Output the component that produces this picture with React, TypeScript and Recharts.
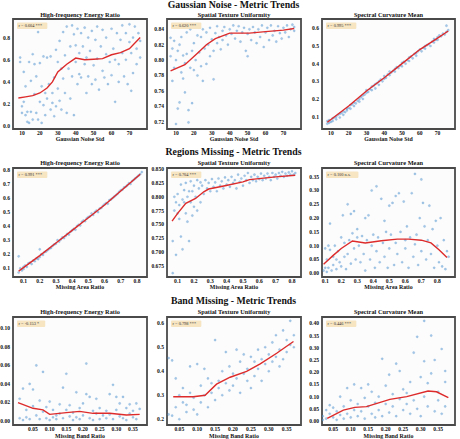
import { ScatterChart, Scatter, XAxis, YAxis, CartesianGrid, ReferenceArea } from "recharts";

type Pt = [number, number];

// ---------- Gaussian Noise row ----------
const gaussStdTicks = [10, 20, 30, 40, 50, 60, 70];

const gaussHfPoints: Pt[] = [
  [9, 0.62], [9, 0.58], [10, 0.18], [10, 0.12], [11, 0.22], [11, 0.49], [12, 0.1], [12, 0.36], [13, 0.04], [13, 0.13],
  [14, 0.03], [14, 0.58], [15, 0.13], [15, 0.41], [16, 0.06], [16, 0.65], [17, 0.29], [17, 0.56], [18, 0.12], [18, 0.45],
  [19, 0.85], [19, 0.06], [20, 0.22], [20, 0.57], [21, 0.03], [21, 0.36], [22, 0.19], [22, 0.63], [23, 0.3], [23, 0.1],
  [24, 0.62], [24, 0.25], [25, 0.38], [26, 0.15], [26, 0.63], [27, 0.21], [27, 0.3], [28, 0.44], [28, 0.09], [29, 0.18],
  [29, 0.69], [30, 0.58], [30, 0.34], [31, 0.77], [31, 0.23], [32, 0.15], [32, 0.52], [33, 0.85], [33, 0.43], [34, 0.64],
  [34, 0.3], [35, 0.9], [35, 0.12], [36, 0.52], [37, 0.72], [37, 0.25], [38, 0.91], [38, 0.45], [39, 0.83], [39, 0.1],
  [40, 0.73], [40, 0.58], [41, 0.38], [41, 0.88], [42, 0.47], [42, 0.66], [43, 0.84], [43, 0.44], [44, 0.72], [45, 0.56],
  [45, 0.89], [46, 0.3], [46, 0.62], [47, 0.8], [47, 0.45], [48, 0.68], [49, 0.38], [49, 0.86], [50, 0.55], [51, 0.78],
  [51, 0.42], [52, 0.9], [52, 0.61], [53, 0.33], [54, 0.72], [55, 0.5], [55, 0.87], [56, 0.44], [57, 0.65], [57, 0.8],
  [58, 0.38], [59, 0.58], [60, 0.88], [60, 0.46], [61, 0.7], [62, 0.22], [62, 0.6], [63, 0.84], [64, 0.4], [64, 0.56],
  [65, 0.78], [66, 0.66], [66, 0.91], [67, 0.45], [68, 0.6], [68, 0.84], [69, 0.38], [70, 0.76], [70, 0.92], [71, 0.32],
  [71, 0.66], [72, 0.8], [72, 0.48], [73, 0.9], [74, 0.7], [74, 0.56], [75, 0.84], [76, 0.77], [76, 0.62],
];
const gaussHfTrend: Pt[] = [
  [8, 0.255], [12, 0.265], [16, 0.276], [20, 0.3], [24, 0.345], [27, 0.4], [30, 0.49], [35, 0.56],
  [40, 0.615], [45, 0.6], [50, 0.605], [55, 0.61], [60, 0.645], [65, 0.665], [70, 0.7], [76, 0.8],
];

const gaussStuPoints: Pt[] = [
  [7, 0.829], [7, 0.805], [8, 0.815], [8, 0.773], [9, 0.825], [9, 0.79], [10, 0.717], [10, 0.8], [11, 0.812], [11, 0.737],
  [12, 0.82], [12, 0.745], [13, 0.784], [13, 0.83], [14, 0.776], [14, 0.806], [15, 0.758], [15, 0.796], [16, 0.808], [16, 0.836],
  [17, 0.735], [17, 0.719], [18, 0.79], [18, 0.84], [19, 0.744], [19, 0.812], [20, 0.822], [20, 0.787], [21, 0.8], [22, 0.78],
  [22, 0.832], [23, 0.81], [24, 0.792], [24, 0.83], [25, 0.773], [25, 0.84], [26, 0.815], [27, 0.795], [27, 0.836], [28, 0.82],
  [29, 0.805], [29, 0.842], [30, 0.827], [31, 0.812], [31, 0.775], [32, 0.835], [33, 0.822], [33, 0.844], [34, 0.83], [35, 0.814],
  [36, 0.838], [36, 0.826], [37, 0.843], [38, 0.832], [39, 0.82], [40, 0.84], [41, 0.834], [42, 0.845], [43, 0.828], [44, 0.838],
  [45, 0.844], [46, 0.824], [47, 0.836], [48, 0.842], [49, 0.812], [50, 0.805], [50, 0.834], [51, 0.84], [52, 0.826], [53, 0.843],
  [54, 0.836], [55, 0.822], [56, 0.84], [57, 0.83], [58, 0.845], [59, 0.817], [60, 0.836], [61, 0.842], [62, 0.826], [63, 0.845],
  [64, 0.832], [65, 0.838], [66, 0.824], [67, 0.844], [68, 0.835], [69, 0.828], [70, 0.842], [71, 0.836], [72, 0.845], [73, 0.83],
  [74, 0.84], [75, 0.846], [76, 0.838], [76, 0.843],
];
const gaussStuTrend: Pt[] = [
  [7, 0.786], [15, 0.794], [22, 0.809], [27, 0.82], [32, 0.828], [40, 0.835], [51, 0.835], [60, 0.837], [70, 0.839], [76, 0.841],
];

const gaussScmPoints: Pt[] = [
  [8, 0.06], [8, 0.075], [9, 0.08], [9, 0.065], [10, 0.07], [11, 0.09], [11, 0.075], [12, 0.095], [13, 0.085], [13, 0.1],
  [14, 0.11], [15, 0.095], [15, 0.115], [16, 0.12], [17, 0.11], [17, 0.13], [18, 0.125], [19, 0.135], [19, 0.145], [20, 0.15],
  [21, 0.145], [21, 0.165], [22, 0.17], [23, 0.16], [23, 0.18], [24, 0.175], [25, 0.19], [26, 0.185], [26, 0.2], [27, 0.21],
  [28, 0.2], [28, 0.22], [29, 0.225], [30, 0.235], [30, 0.25], [31, 0.24], [32, 0.255], [33, 0.25], [33, 0.27], [34, 0.275],
  [35, 0.26], [35, 0.285], [36, 0.29], [37, 0.28], [37, 0.3], [38, 0.31], [39, 0.3], [40, 0.315], [40, 0.33], [41, 0.32],
  [42, 0.34], [43, 0.335], [43, 0.355], [44, 0.35], [45, 0.36], [46, 0.37], [46, 0.355], [47, 0.38], [48, 0.375], [49, 0.39],
  [50, 0.385], [50, 0.405], [51, 0.41], [52, 0.4], [53, 0.42], [54, 0.435], [54, 0.415], [55, 0.44], [56, 0.43], [57, 0.455],
  [58, 0.46], [58, 0.445], [59, 0.47], [60, 0.48], [61, 0.47], [62, 0.49], [63, 0.5], [63, 0.485], [64, 0.505], [65, 0.51],
  [66, 0.5], [67, 0.525], [68, 0.52], [68, 0.54], [69, 0.535], [70, 0.55], [70, 0.535], [71, 0.56], [72, 0.555], [73, 0.57],
  [74, 0.565], [75, 0.58], [75, 0.615], [76, 0.59],
];
const gaussScmTrend: Pt[] = [
  [8, 0.068], [20, 0.16], [30, 0.245], [40, 0.32], [50, 0.4], [60, 0.48], [70, 0.545], [76, 0.585],
];

// ---------- Regions Missing row ----------
const areaTicks = [0.1, 0.2, 0.3, 0.4, 0.5, 0.6, 0.7, 0.8];

const areaHfPoints: Pt[] = [
  [0.07, 0.185], [0.07, 0.07], [0.08, 0.1], [0.09, 0.085], [0.1, 0.11], [0.1, 0.095], [0.11, 0.12], [0.12, 0.11], [0.13, 0.135], [0.14, 0.14],
  [0.15, 0.13], [0.16, 0.155], [0.17, 0.15], [0.18, 0.17], [0.19, 0.165], [0.2, 0.18], [0.2, 0.235], [0.21, 0.2], [0.22, 0.195], [0.23, 0.215],
  [0.24, 0.22], [0.25, 0.23], [0.26, 0.24], [0.27, 0.245], [0.28, 0.26], [0.29, 0.27], [0.3, 0.275], [0.31, 0.3], [0.32, 0.29], [0.33, 0.305],
  [0.34, 0.32], [0.35, 0.315], [0.36, 0.33], [0.37, 0.345], [0.38, 0.34], [0.39, 0.36], [0.4, 0.37], [0.41, 0.38], [0.42, 0.375], [0.43, 0.4],
  [0.44, 0.41], [0.45, 0.405], [0.46, 0.43], [0.47, 0.44], [0.48, 0.435], [0.49, 0.455], [0.5, 0.465], [0.51, 0.47], [0.52, 0.49], [0.53, 0.48],
  [0.54, 0.5], [0.55, 0.51], [0.56, 0.5], [0.57, 0.525], [0.58, 0.53], [0.59, 0.545], [0.6, 0.555], [0.61, 0.565], [0.62, 0.56], [0.63, 0.585],
  [0.64, 0.59], [0.65, 0.6], [0.66, 0.61], [0.67, 0.62], [0.68, 0.63], [0.69, 0.645], [0.7, 0.655], [0.71, 0.66], [0.72, 0.675], [0.73, 0.68],
  [0.74, 0.69], [0.75, 0.705], [0.76, 0.7], [0.77, 0.72], [0.78, 0.73], [0.79, 0.74], [0.8, 0.75], [0.81, 0.76], [0.82, 0.77], [0.83, 0.785],
];
const areaHfTrend: Pt[] = [
  [0.07, 0.08], [0.2, 0.19], [0.3, 0.28], [0.4, 0.37], [0.5, 0.46], [0.6, 0.55], [0.7, 0.65], [0.82, 0.77],
];

const areaStuPoints: Pt[] = [
  [0.07, 0.662], [0.07, 0.72], [0.08, 0.8], [0.08, 0.775], [0.09, 0.695], [0.09, 0.79], [0.1, 0.77], [0.1, 0.805], [0.11, 0.76], [0.11, 0.785],
  [0.12, 0.822], [0.12, 0.728], [0.13, 0.795], [0.13, 0.705], [0.14, 0.812], [0.14, 0.79], [0.15, 0.77], [0.15, 0.825], [0.16, 0.8], [0.16, 0.755],
  [0.17, 0.72], [0.17, 0.81], [0.18, 0.79], [0.18, 0.828], [0.19, 0.81], [0.19, 0.766], [0.2, 0.782], [0.2, 0.82], [0.21, 0.8], [0.22, 0.83],
  [0.22, 0.775], [0.23, 0.815], [0.24, 0.79], [0.24, 0.826], [0.25, 0.82], [0.26, 0.805], [0.27, 0.83], [0.28, 0.815], [0.29, 0.825], [0.3, 0.81],
  [0.31, 0.832], [0.32, 0.818], [0.33, 0.826], [0.34, 0.81], [0.35, 0.833], [0.36, 0.82], [0.37, 0.828], [0.38, 0.815], [0.39, 0.835], [0.4, 0.822],
  [0.41, 0.83], [0.42, 0.818], [0.43, 0.836], [0.44, 0.825], [0.45, 0.83], [0.46, 0.815], [0.47, 0.84], [0.48, 0.827], [0.49, 0.833], [0.5, 0.82],
  [0.51, 0.838], [0.52, 0.83], [0.53, 0.843], [0.54, 0.825], [0.55, 0.836], [0.56, 0.83], [0.57, 0.84], [0.58, 0.828], [0.59, 0.836], [0.6, 0.832],
  [0.61, 0.842], [0.62, 0.83], [0.63, 0.838], [0.64, 0.833], [0.65, 0.842], [0.66, 0.836], [0.67, 0.83], [0.68, 0.843], [0.69, 0.836], [0.7, 0.84],
  [0.71, 0.833], [0.72, 0.843], [0.73, 0.838], [0.74, 0.845], [0.75, 0.836], [0.76, 0.842], [0.77, 0.838], [0.78, 0.844], [0.79, 0.84], [0.8, 0.846],
  [0.81, 0.84], [0.82, 0.843],
];
const areaStuTrend: Pt[] = [
  [0.066, 0.756], [0.1, 0.77], [0.15, 0.788], [0.21, 0.797], [0.26, 0.809], [0.29, 0.814], [0.39, 0.82], [0.5, 0.827],
  [0.54, 0.831], [0.7, 0.836], [0.82, 0.839],
];

const areaScmPoints: Pt[] = [
  [0.09, 0.01], [0.1, 0.02], [0.1, 0.09], [0.11, 0.05], [0.11, 0.005], [0.12, 0.1], [0.12, 0.02], [0.13, 0.18], [0.13, 0.085], [0.14, 0.01],
  [0.15, 0.06], [0.15, 0.03], [0.16, 0.1], [0.17, 0.05], [0.17, 0.015], [0.18, 0.08], [0.19, 0.04], [0.2, 0.025], [0.2, 0.13], [0.21, 0.21],
  [0.22, 0.06], [0.22, 0.11], [0.23, 0.015], [0.24, 0.25], [0.24, 0.07], [0.25, 0.12], [0.26, 0.215], [0.26, 0.035], [0.27, 0.145], [0.28, 0.225],
  [0.28, 0.09], [0.29, 0.05], [0.3, 0.13], [0.3, 0.16], [0.31, 0.1], [0.32, 0.04], [0.33, 0.135], [0.34, 0.07], [0.35, 0.2], [0.35, 0.01],
  [0.36, 0.12], [0.37, 0.21], [0.38, 0.05], [0.39, 0.3], [0.39, 0.1], [0.4, 0.14], [0.41, 0.02], [0.42, 0.315], [0.42, 0.08], [0.43, 0.13],
  [0.44, 0.04], [0.45, 0.27], [0.46, 0.11], [0.47, 0.19], [0.47, 0.06], [0.48, 0.15], [0.49, 0.02], [0.5, 0.245], [0.5, 0.09], [0.51, 0.14],
  [0.52, 0.255], [0.53, 0.03], [0.54, 0.28], [0.54, 0.11], [0.55, 0.07], [0.56, 0.29], [0.57, 0.15], [0.58, 0.04], [0.59, 0.26], [0.6, 0.12],
  [0.6, 0.09], [0.61, 0.17], [0.62, 0.02], [0.63, 0.13], [0.64, 0.29], [0.65, 0.06], [0.66, 0.36], [0.66, 0.105], [0.67, 0.14], [0.68, 0.03],
  [0.69, 0.2], [0.7, 0.34], [0.7, 0.08], [0.71, 0.255], [0.72, 0.17], [0.73, 0.05], [0.74, 0.12], [0.75, 0.245], [0.76, 0.07], [0.77, 0.16],
  [0.78, 0.02], [0.79, 0.19], [0.8, 0.1], [0.81, 0.04], [0.82, 0.2], [0.83, 0.025], [0.84, 0.12], [0.85, 0.015], [0.86, 0.08], [0.87, 0.06],
];
const areaScmTrend: Pt[] = [
  [0.09, 0.033], [0.15, 0.065], [0.2, 0.09], [0.27, 0.117], [0.35, 0.11], [0.45, 0.118], [0.55, 0.124], [0.62, 0.124],
  [0.7, 0.12], [0.76, 0.11], [0.81, 0.085], [0.86, 0.057],
];

// ---------- Band Missing row ----------
const bandTicks = [0.05, 0.1, 0.15, 0.2, 0.25, 0.3, 0.35];

const bandHfPoints: Pt[] = [
  [0.01, 0.024], [0.01, 0.003], [0.02, 0.035], [0.02, 0.001], [0.03, 0.012], [0.03, 0.004], [0.04, 0.04], [0.04, 0.002], [0.05, 0.016], [0.05, 0.034],
  [0.06, 0.06], [0.06, 0.006], [0.07, 0.022], [0.07, 0.002], [0.08, 0.053], [0.08, 0.01], [0.09, 0.015], [0.09, 0.003], [0.1, 0.021], [0.1, 0.001],
  [0.11, 0.012], [0.11, 0.004], [0.12, 0.006], [0.12, 0.002], [0.13, 0.018], [0.13, 0.008], [0.14, 0.036], [0.14, 0.003], [0.15, 0.051], [0.15, 0.012],
  [0.16, 0.005], [0.16, 0.017], [0.17, 0.001], [0.17, 0.009], [0.18, 0.031], [0.18, 0.004], [0.19, 0.014], [0.19, 0.002], [0.2, 0.019], [0.2, 0.006],
  [0.21, 0.062], [0.21, 0.029], [0.22, 0.026], [0.22, 0.003], [0.23, 0.011], [0.23, 0.001], [0.24, 0.024], [0.24, 0.008], [0.25, 0.014], [0.25, 0.002],
  [0.26, 0.006], [0.27, 0.011], [0.27, 0.003], [0.28, 0.029], [0.28, 0.007], [0.29, 0.039], [0.29, 0.002], [0.3, 0.026], [0.3, 0.012], [0.31, 0.005],
  [0.31, 0.019], [0.32, 0.026], [0.32, 0.003], [0.33, 0.014], [0.33, 0.001], [0.34, 0.008], [0.34, 0.018], [0.35, 0.004], [0.35, 0.011], [0.36, 0.019],
  [0.36, 0.002], [0.37, 0.013],
];
const bandHfTrend: Pt[] = [
  [0.005, 0.0198], [0.05, 0.0137], [0.08, 0.012], [0.1, 0.0072], [0.15, 0.009], [0.19, 0.0104], [0.23, 0.0083],
  [0.28, 0.0083], [0.33, 0.0065], [0.37, 0.0072],
];

const bandStuPoints: Pt[] = [
  [0.02, 0.455], [0.02, 0.22], [0.03, 0.445], [0.03, 0.215], [0.04, 0.37], [0.04, 0.25], [0.05, 0.3], [0.05, 0.2], [0.06, 0.33], [0.06, 0.27],
  [0.07, 0.26], [0.07, 0.23], [0.08, 0.42], [0.08, 0.31], [0.09, 0.29], [0.09, 0.24], [0.1, 0.43], [0.1, 0.22], [0.11, 0.34], [0.11, 0.27],
  [0.12, 0.41], [0.12, 0.3], [0.13, 0.37], [0.13, 0.25], [0.14, 0.35], [0.14, 0.31], [0.15, 0.53], [0.15, 0.28], [0.16, 0.36], [0.16, 0.33],
  [0.17, 0.4], [0.17, 0.3], [0.18, 0.48], [0.18, 0.35], [0.19, 0.42], [0.19, 0.32], [0.2, 0.39], [0.2, 0.34], [0.21, 0.49], [0.21, 0.37],
  [0.22, 0.44], [0.22, 0.31], [0.23, 0.47], [0.23, 0.39], [0.24, 0.41], [0.24, 0.36], [0.25, 0.46], [0.25, 0.33], [0.26, 0.44], [0.26, 0.38],
  [0.27, 0.49], [0.27, 0.41], [0.28, 0.45], [0.28, 0.36], [0.29, 0.43], [0.29, 0.5], [0.3, 0.47], [0.3, 0.4], [0.31, 0.52], [0.31, 0.44],
  [0.32, 0.55], [0.32, 0.46], [0.33, 0.49], [0.33, 0.42], [0.34, 0.57], [0.34, 0.45], [0.35, 0.53], [0.35, 0.48], [0.36, 0.61], [0.36, 0.51],
  [0.37, 0.5], [0.37, 0.55],
];
const bandStuTrend: Pt[] = [
  [0.033, 0.294], [0.089, 0.294], [0.122, 0.3], [0.154, 0.346], [0.192, 0.375], [0.238, 0.399], [0.276, 0.431], [0.322, 0.475], [0.369, 0.524],
];

const bandScmPoints: Pt[] = [
  [0.02, 0.005], [0.02, 0.02], [0.03, 0.045], [0.03, 0.01], [0.04, 0.03], [0.04, 0.065], [0.05, 0.015], [0.05, 0.055], [0.06, 0.005], [0.06, 0.04],
  [0.07, 0.025], [0.07, 0.1], [0.08, 0.01], [0.08, 0.06], [0.09, 0.135], [0.09, 0.03], [0.1, 0.085], [0.1, 0.015], [0.11, 0.045], [0.11, 0.15],
  [0.12, 0.02], [0.12, 0.07], [0.13, 0.135], [0.13, 0.04], [0.14, 0.095], [0.14, 0.01], [0.15, 0.15], [0.15, 0.06], [0.16, 0.03], [0.16, 0.12],
  [0.17, 0.075], [0.17, 0.015], [0.18, 0.045], [0.18, 0.1], [0.19, 0.255], [0.19, 0.02], [0.2, 0.07], [0.2, 0.145], [0.21, 0.19], [0.21, 0.035],
  [0.22, 0.11], [0.22, 0.06], [0.23, 0.235], [0.23, 0.02], [0.24, 0.205], [0.24, 0.09], [0.25, 0.13], [0.25, 0.045], [0.26, 0.07], [0.26, 0.115],
  [0.27, 0.03], [0.27, 0.16], [0.28, 0.28], [0.28, 0.085], [0.29, 0.345], [0.29, 0.05], [0.3, 0.18], [0.3, 0.02], [0.31, 0.41], [0.31, 0.245],
  [0.31, 0.1], [0.32, 0.06], [0.32, 0.155], [0.33, 0.35], [0.33, 0.195], [0.34, 0.04], [0.34, 0.25], [0.35, 0.12], [0.35, 0.085], [0.36, 0.295],
  [0.36, 0.03], [0.37, 0.16], [0.37, 0.205], [0.37, 0.06],
];
const bandScmTrend: Pt[] = [
  [0.033, 0.011], [0.079, 0.045], [0.112, 0.056], [0.145, 0.059], [0.212, 0.089], [0.26, 0.1], [0.321, 0.123], [0.345, 0.12], [0.379, 0.096],
];

const rowTitles = ["Gaussian Noise - Metric Trends", "Regions Missing - Metric Trends", "Band Missing - Metric Trends"];
const metricNames = ["High-frequency Energy Ratio", "Spatial Texture Uniformity", "Spectral Curvature Mean"];
const xLabels = ["Gaussian Noise Std", "Missing Area Ratio", "Missing Band Ratio"];
const corrLabels = [
  ["r = 0.604 ***", "r = 0.620 ***", "r = 0.995 ***"],
  ["r = 0.991 ***", "r = 0.704 ***", "r = 0.100 n.s."],
  ["r = -0.153 *", "r = 0.798 ***", "r = 0.446 ***"],
];

// layout (pixels)
const COLS = [[13, 147], [167, 301], [322, 455]];
const ROWS = [[19, 129], [168, 277], [317, 425]];
const YW = 24;
const XH = 10;
const PAD = 2;
const FONT = "'Liberation Serif', 'DejaVu Serif', serif";

const fix = (d: number) => (v: number) => v.toFixed(d);

type PanelCfg = {
  points: Pt[];
  trend: Pt[];
  xDomain: [number, number];
  yDomain: [number, number];
  xTicks: number[];
  yTicks: number[];
  xFmt: (v: number) => string;
  yFmt: (v: number) => string;
};

const panels: PanelCfg[][] = [
  [
    { points: gaussHfPoints, trend: gaussHfTrend, xDomain: [5, 79.8], yDomain: [-0.025, 0.968], xTicks: gaussStdTicks, yTicks: [0, 0.2, 0.4, 0.6, 0.8], xFmt: fix(0), yFmt: fix(1) },
    { points: gaussStuPoints, trend: gaussStuTrend, xDomain: [5, 79.8], yDomain: [0.7105, 0.8534], xTicks: gaussStdTicks, yTicks: [0.72, 0.74, 0.76, 0.78, 0.8, 0.82, 0.84], xFmt: fix(0), yFmt: fix(2) },
    { points: gaussScmPoints, trend: gaussScmTrend, xDomain: [5, 79.8], yDomain: [0.03, 0.653], xTicks: gaussStdTicks, yTicks: [0.1, 0.2, 0.3, 0.4, 0.5, 0.6], xFmt: fix(0), yFmt: fix(1) },
  ],
  [
    { points: areaHfPoints, trend: areaHfTrend, xDomain: [0.035, 0.862], yDomain: [0.038, 0.814], xTicks: areaTicks, yTicks: [0.1, 0.2, 0.3, 0.4, 0.5, 0.6, 0.7, 0.8], xFmt: fix(1), yFmt: fix(1) },
    { points: areaStuPoints, trend: areaStuTrend, xDomain: [0.035, 0.855], yDomain: [0.655, 0.852], xTicks: areaTicks, yTicks: [0.675, 0.7, 0.725, 0.75, 0.775, 0.8, 0.825, 0.85], xFmt: fix(1), yFmt: fix(3) },
    { points: areaScmPoints, trend: areaScmTrend, xDomain: [0.08, 0.91], yDomain: [-0.0134, 0.3815], xTicks: areaTicks, yTicks: [0, 0.05, 0.1, 0.15, 0.2, 0.25, 0.3, 0.35], xFmt: fix(1), yFmt: fix(2) },
  ],
  [
    { points: bandHfPoints, trend: bandHfTrend, xDomain: [-0.01, 0.392], yDomain: [-0.0043, 0.1122], xTicks: bandTicks, yTicks: [0, 0.02, 0.04, 0.06, 0.08, 0.1], xFmt: fix(2), yFmt: fix(2) },
    { points: bandStuPoints, trend: bandStuTrend, xDomain: [0.0156, 0.39], yDomain: [0.176, 0.626], xTicks: bandTicks, yTicks: [0.2, 0.3, 0.4, 0.5, 0.6], xFmt: fix(2), yFmt: fix(1) },
    { points: bandScmPoints, trend: bandScmTrend, xDomain: [0.018, 0.398], yDomain: [-0.016, 0.426], xTicks: bandTicks, yTicks: [0, 0.05, 0.1, 0.15, 0.2, 0.25, 0.3, 0.35, 0.4], xFmt: fix(2), yFmt: fix(2) },
  ],
];

const tickStyle = { fontSize: 5.6, fontWeight: 700, fontFamily: FONT, fill: "#111" };

const Dot = (p: any) => <circle cx={p.cx} cy={p.cy} r={1.1} fill="#5f9fd6" fillOpacity={0.55} stroke="#3f85c4" strokeOpacity={0.6} strokeWidth={0.3} />;
const NoDot = () => <g />;

function Panel({ cfg, col, row }: { cfg: PanelCfg; col: number; row: number }) {
  const [x0, x1] = COLS[col];
  const [y0, y1] = ROWS[row];
  const pts = cfg.points.map(([x, y]) => ({ x, y }));
  const trend = cfg.trend.map(([x, y]) => ({ x, y }));
  return (
    <div style={{ position: "absolute", left: x0 - YW, top: y0 - PAD }}>
      <ScatterChart
        width={x1 - x0 + YW + PAD}
        height={y1 - y0 + PAD + XH}
        margin={{ top: PAD, right: PAD, left: 0, bottom: 0 }}
      >
        <ReferenceArea x1={cfg.xDomain[0]} x2={cfg.xDomain[1]} y1={cfg.yDomain[0]} y2={cfg.yDomain[1]} fill="#fcfcfc" fillOpacity={1} stroke="none" ifOverflow="visible" />
        <CartesianGrid stroke="#e2e2e2" strokeWidth={0.5} strokeDasharray="1.5 1" />
        <XAxis
          type="number"
          dataKey="x"
          domain={cfg.xDomain}
          ticks={cfg.xTicks}
          allowDataOverflow
          interval={0}
          tickFormatter={cfg.xFmt}
          axisLine={false}
          tickLine={false}
          tickSize={0}
          tickMargin={2}
          height={XH}
          tick={tickStyle}
        />
        <YAxis
          type="number"
          dataKey="y"
          domain={cfg.yDomain}
          ticks={cfg.yTicks}
          allowDataOverflow
          interval={0}
          tickFormatter={cfg.yFmt}
          axisLine={false}
          tickLine={false}
          tickSize={0}
          tickMargin={3}
          width={YW}
          tick={tickStyle}
        />
        <Scatter data={pts} shape={Dot} isAnimationActive={false} />
        <Scatter
          data={trend}
          shape={NoDot}
          line={{ stroke: "#dd2b2b", strokeWidth: 1.4 }}
          lineType="joint"
          isAnimationActive={false}
        />
        <ReferenceArea x1={cfg.xDomain[0]} x2={cfg.xDomain[1]} y1={cfg.yDomain[0]} y2={cfg.yDomain[1]} fill="none" stroke="#4a4a4a" strokeWidth={1.8} ifOverflow="visible" />
      </ScatterChart>
    </div>
  );
}

function TextLayer() {
  const titleY = [5, 152, 301];
  const subY = [15, 163, 312];
  const xlabY = [138.5, 287, 435.5];
  return (
    <svg width={460} height={439} style={{ position: "absolute", left: 0, top: 0, pointerEvents: "none" }}>
      {rowTitles.map((t, r) => (
        <text key={t} x={233.5} y={titleY[r]} dy="0.35em" textAnchor="middle" fontFamily={FONT} fontWeight={700} fontSize={9.8} fill="#111">
          {t}
        </text>
      ))}
      {ROWS.map(([y0, y1], r) =>
        COLS.map(([x0, x1], c) => {
          const label = corrLabels[r][c];
          const bw = label.length * 2.1 + 3;
          return (
            <g key={`${r}-${c}`}>
              <text x={(x0 + x1) / 2} y={subY[r]} dy="0.35em" textAnchor="middle" fontFamily={FONT} fontWeight={700} fontSize={6.3} fill="#111">
                {metricNames[c]}
              </text>
              <text x={(x0 + x1) / 2} y={xlabY[r]} dy="0.35em" textAnchor="middle" fontFamily={FONT} fontWeight={700} fontSize={5.9} fill="#111">
                {xLabels[r]}
              </text>
              <rect x={x0 + 4} y={y0 + 3.5} width={bw} height={6.5} rx={1} fill="#f5deb3" fillOpacity={0.8} />
              <text x={x0 + 5.5} y={y0 + 6.9} dy="0.35em" fontFamily={FONT} fontSize={4.4} fill="#333">
                {label}
              </text>
            </g>
          );
        })
      )}
    </svg>
  );
}

export default function App() {
  return (
    <div style={{ position: "absolute", left: 0, top: 0, width: 460, height: 439, background: "#fff", overflow: "hidden" }}>
      {panels.map((row, r) => row.map((cfg, c) => <Panel key={`${r}-${c}`} cfg={cfg} col={c} row={r} />))}
      <TextLayer />
    </div>
  );
}
